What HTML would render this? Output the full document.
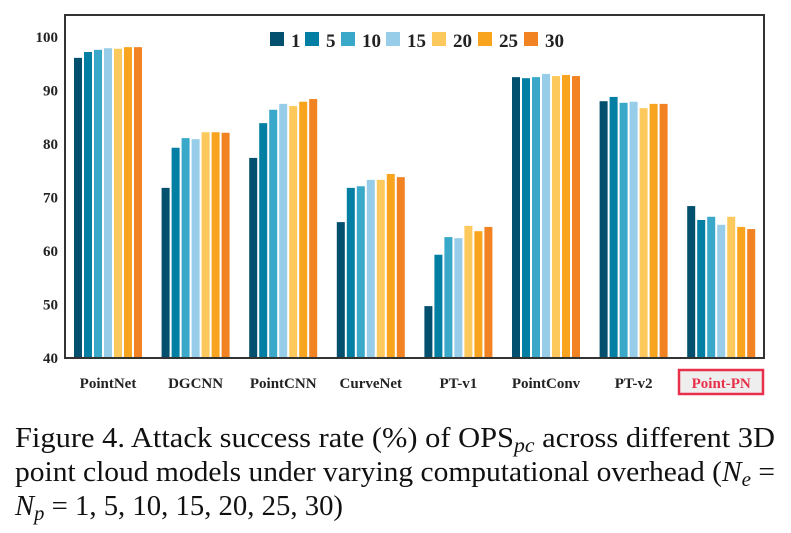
<!DOCTYPE html>
<html><head><meta charset="utf-8"><style>
html,body{margin:0;padding:0;background:#fff;width:791px;height:533px;overflow:hidden}
svg text{font-family:"Liberation Serif",serif}
</style></head><body>
<svg id="chart" width="791" height="533" viewBox="0 0 791 533">
<g id="bars"></g>
<g id="axes"></g>
<g id="legend"></g>
<g font-size="28" fill="#111">
<text x="15" y="447" textLength="760" lengthAdjust="spacingAndGlyphs">Figure 4.  Attack success rate (%) of OPS<tspan font-style="italic" font-size="20" dy="5">pc</tspan><tspan dy="-5"> across different 3D</tspan></text>
<text x="15" y="481" textLength="760" lengthAdjust="spacingAndGlyphs">point cloud models under varying computational overhead (<tspan font-style="italic">N</tspan><tspan font-style="italic" font-size="20" dy="5">e</tspan><tspan dy="-5"> =</tspan></text>
<text x="15" y="515" textLength="328" lengthAdjust="spacingAndGlyphs"><tspan font-style="italic">N</tspan><tspan font-style="italic" font-size="20" dy="5">p</tspan><tspan dy="-5"> = 1, 5, 10, 15, 20, 25, 30)</tspan></text>
</g>
</svg>
<script>
const categories=["PointNet","DGCNN","PointCNN","CurveNet","PT-v1","PointConv","PT-v2","Point-PN"];
const seriesNames=["1","5","10","15","20","25","30"];
const s1=[96.1,71.8,77.4,65.4,49.7,92.5,88.0,68.4];
const s5=[97.2,79.3,83.9,71.8,59.3,92.3,88.8,65.8];
const s10=[97.6,81.1,86.4,72.1,62.6,92.5,87.7,66.4];
const s15=[97.9,80.9,87.5,73.3,62.4,93.1,87.9,64.9];
const s20=[97.8,82.2,87.1,73.3,64.7,92.7,86.7,66.4];
const s25=[98.1,82.2,87.9,74.4,63.7,92.9,87.5,64.5];
const s30=[98.1,82.1,88.4,73.8,64.5,92.7,87.5,64.1];
const yTicks=[40,50,60,70,80,90,100];
const series=[s1,s5,s10,s15,s20,s25,s30];
const colors=["#02506e","#027fa2","#3aa8c9","#97cde8","#fdc95c","#f8a41f","#f28322"];
const NS="http://www.w3.org/2000/svg";
const L=65,R=764,T=15,B=358;
const y=v=>B-(v-40)*(B-37)/60;
const x=(ci,si)=>74+ci*87.6+si*10;
function mk(tag,attrs,parent,txt){const e=document.createElementNS(NS,tag);for(const k in attrs)e.setAttribute(k,attrs[k]);if(txt!=null)e.textContent=txt;parent.appendChild(e);return e;}
const gb=document.getElementById('bars'),ga=document.getElementById('axes'),gl=document.getElementById('legend');
series.forEach((s,si)=>{s.forEach((v,ci)=>{
 const r=mk('rect',{x:x(ci,si),y:y(v),width:8,height:B-y(v),fill:colors[si]},gb);
 
 
});});
const fr=mk('rect',{x:L,y:T,width:R-L,height:B-T,fill:'none',stroke:'#333',"stroke-width":2},ga);


yTicks.forEach(t=>{
 const tx=mk('text',{x:58,y:y(t)+5,"text-anchor":"end","font-size":15,"font-weight":"bold",fill:"#222"},ga,String(t));
 
 
});
categories.forEach((c,ci)=>{
 const cx=x(ci,0)+34;
 if(c==="Point-PN"){
  const bx=mk('rect',{x:679,y:370,width:84,height:24,fill:'#eeeeee',stroke:'#e8304a',"stroke-width":2.5},ga);
  
  
 }
 const tx=mk('text',{x:cx,y:388,"text-anchor":"middle","font-size":15,"font-weight":"bold",fill:c==="Point-PN"?"#e8304a":"#222"},ga,c);
 
 
});
const lx=[270,305,341,386,432,478,524];
seriesNames.forEach((n,i)=>{
 const r=mk('rect',{x:lx[i],y:32,width:14,height:14,fill:colors[i]},gl);
 
 
 const t=mk('text',{x:lx[i]+21,y:47,"font-size":19,"font-weight":"bold",fill:"#222"},gl,n);
 
 
});
</script>
</body></html>
